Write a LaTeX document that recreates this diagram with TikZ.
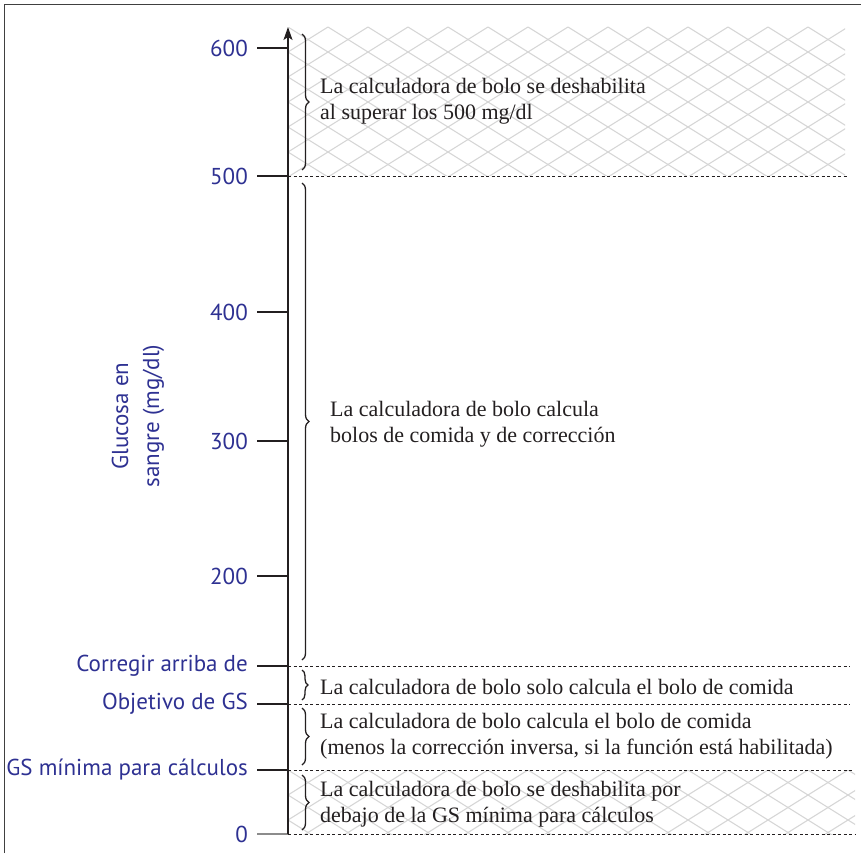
\documentclass[tikz,border=0pt]{standalone}
\usepackage{fontspec}
\setmainfont{Liberation Serif}
\newfontfamily\labfont{PT Sans}
\usetikzlibrary{decorations.pathreplacing,arrows.meta}
\definecolor{axisblue}{RGB}{46,49,146}
\definecolor{hatchgray}{RGB}{214,214,214}
\definecolor{inkgray}{RGB}{35,31,32}
\begin{document}
\begin{tikzpicture}[x=1pt,y=-1pt,
  ticklab/.style={font=\labfont\fontsize{23}{26}\selectfont, text=axisblue, anchor=east, inner sep=0pt},
  axtitle/.style={font=\labfont\fontsize{23}{31}\selectfont, text=axisblue, align=center, rotate=90, inner sep=0pt},
  desc/.style={font=\fontsize{22}{26.5}\selectfont, text=inkgray, anchor=west, align=left, inner sep=0pt},
  sepline/.style={line width=0.8pt, inkgray, dash pattern=on 3pt off 2.5pt},
  bracestyle/.style={decorate, decoration={brace, amplitude=7pt}, line width=1.3pt, inkgray},
  tickline/.style={line width=1.4pt, inkgray},
  hatchline/.style={hatchgray, line width=1.1pt}]
\useasboundingbox (0,0) rectangle (861,853);
% frame
\draw[line width=1pt, black!75] (4,853) -- (4,5) -- (861,5);
% hatched regions
\begin{scope}
  \clip (289,27) rectangle (845,176);
  \foreach \i in {-12,...,26} {
    \draw[hatchline] (288+40*\i,27) -- ++(320,200);
    \draw[hatchline] (288+40*\i,27) -- ++(-320,200);
  }
\end{scope}
\begin{scope}
  \clip (289,770) rectangle (855,834);
  \foreach \i in {-4,...,16} {
    \draw[hatchline] (288+40*\i,770) -- ++(160,100);
    \draw[hatchline] (288+40*\i,770) -- ++(-160,100);
  }
\end{scope}
% coordinates on the axis
\coordinate (a0) at (288,834);
\coordinate (amin) at (288,770);
\coordinate (aobj) at (288,704);
\coordinate (acor) at (288,666);
\coordinate (a200) at (288,576);
\coordinate (a300) at (288,441);
\coordinate (a400) at (288,312);
\coordinate (a500) at (288,176);
\coordinate (a600) at (288,48);
\coordinate (atop) at (288,27);
% dashed separators
\coordinate (e500) at (847,176);
\coordinate (ecor) at (850,666);
\coordinate (eobj) at (850,704);
\coordinate (emin) at (852,770);
\coordinate (e0) at (855,834);
\draw[sepline] (a500) -- (e500);
\draw[sepline] (acor) -- (ecor);
\draw[sepline] (aobj) -- (eobj);
\draw[sepline] (amin) -- (emin);
\draw[sepline] (a0) -- (e0);
% ticks and labels
\foreach \c/\t in {a600/600, a500/500, a400/400, a300/300, a200/200,
                   acor/Corregir arriba de, aobj/Objetivo de GS,
                   amin/GS mínima para cálculos} {
  \draw[tickline] (\c) -- ++(-31,0) coordinate (t\c);
  \node[ticklab] (l\c) at ([xshift=-9pt]t\c) {\t};
}
\draw[line width=1.4pt, black!45] (a0) -- ++(-31,0) coordinate (ta0);
\node[ticklab] (la0) at ([xshift=-9pt]ta0) {0};
% axis
\draw[line width=1.4pt, inkgray, -{Stealth[length=13pt,width=9pt,inset=3pt]}] (a0) -- (atop);
% axis title
\node[axtitle] (title) at (138,416) {Glucosa en\\sangre (mg/dl)};
% braces
\coordinate (b1t) at (302,34);   \coordinate (b1b) at (302,170);
\coordinate (b2t) at (302,183);  \coordinate (b2b) at (302,660);
\coordinate (b3t) at (302,670);  \coordinate (b3b) at (302,700);
\coordinate (b4t) at (302,708);  \coordinate (b4b) at (302,765);
\coordinate (b5t) at (302,775);  \coordinate (b5b) at (302,830);
\draw[bracestyle] (b1t) -- (b1b);
\draw[bracestyle] (b2t) -- (b2b);
\draw[bracestyle, decoration={amplitude=6pt}] (b3t) -- (b3b);
\draw[bracestyle] (b4t) -- (b4b);
\draw[bracestyle] (b5t) -- (b5b);
% descriptions
\node[desc] (d1) at (320,101) {La calculadora de bolo se deshabilita\\al superar los 500 mg/dl};
\node[desc] (d2) at (330,424) {La calculadora de bolo calcula\\bolos de comida y de corrección};
\node[desc] (d3) at (320,687) {La calculadora de bolo solo calcula el bolo de comida};
\node[desc] (d4) at (320,736) {La calculadora de bolo calcula el bolo de comida\\(menos la corrección inversa, si la función está habilitada)};
\node[desc] (d5) at (320,804) {La calculadora de bolo se deshabilita por\\debajo de la GS mínima para cálculos};
\end{tikzpicture}
\end{document}
